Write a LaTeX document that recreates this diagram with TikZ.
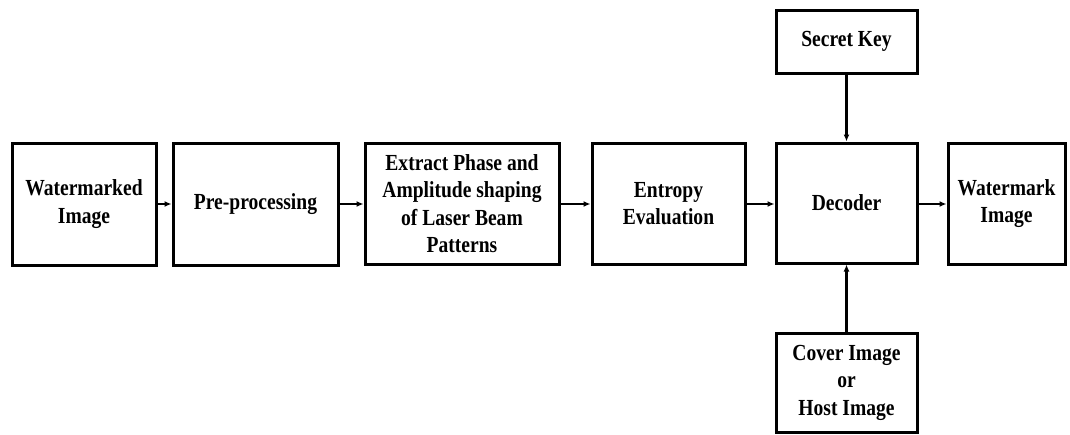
\documentclass[tikz,border=0pt]{standalone}
\usepackage{fontspec}
\setmainfont{Liberation Serif}[FakeStretch=0.85]
\usetikzlibrary{arrows.meta}
\begin{document}
\begin{tikzpicture}[x=1pt,y=-1pt,
  blk/.style={draw,line width=3pt,inner sep=0pt,align=center,
    font=\fontsize{23}{27.5}\selectfont\bfseries},
  arr/.style={line width=2.4pt,-{Latex[length=7pt,width=6pt]}}]
\useasboundingbox (0,0) rectangle (1070,434);
\node[blk,minimum width=144pt,minimum height=122pt] (wi) at (84,204) {Watermarked\\Image};
\node[blk,minimum width=165pt,minimum height=122pt] (pp) at (255.5,204) {Pre-processing};
\node[blk,minimum width=194pt,minimum height=121pt] (ex) at (462,203.5) {Extract Phase and\\Amplitude shaping\\of Laser Beam\\Patterns};
\node[blk,minimum width=153pt,minimum height=121pt] (en) at (668.5,203.5) {Entropy\\Evaluation};
\node[blk,minimum width=141pt,minimum height=120pt] (de) at (846.5,203) {Decoder};
\node[blk,minimum width=117pt,minimum height=121pt] (wm) at (1006.5,203.5) {Watermark\\Image};
\node[blk,minimum width=141pt,minimum height=63pt] (sk) at (846.5,41.5) {Secret Key};
\node[blk,minimum width=141pt,minimum height=99pt] (co) at (846.5,382.5) {Cover Image\\or\\Host Image};
\draw[arr] (wi.east |- 0,204) -- (pp.west |- 0,204);
\draw[arr] (pp.east |- 0,204) -- (ex.west |- 0,204);
\draw[arr] (ex.east |- 0,204) -- (en.west |- 0,204);
\draw[arr] (en.east |- 0,204) -- (de.west |- 0,204);
\draw[arr] (de.east |- 0,204) -- (wm.west |- 0,204);
\draw[arr] (sk) -- (de);
\draw[arr] (co) -- (de);
\end{tikzpicture}
\end{document}
